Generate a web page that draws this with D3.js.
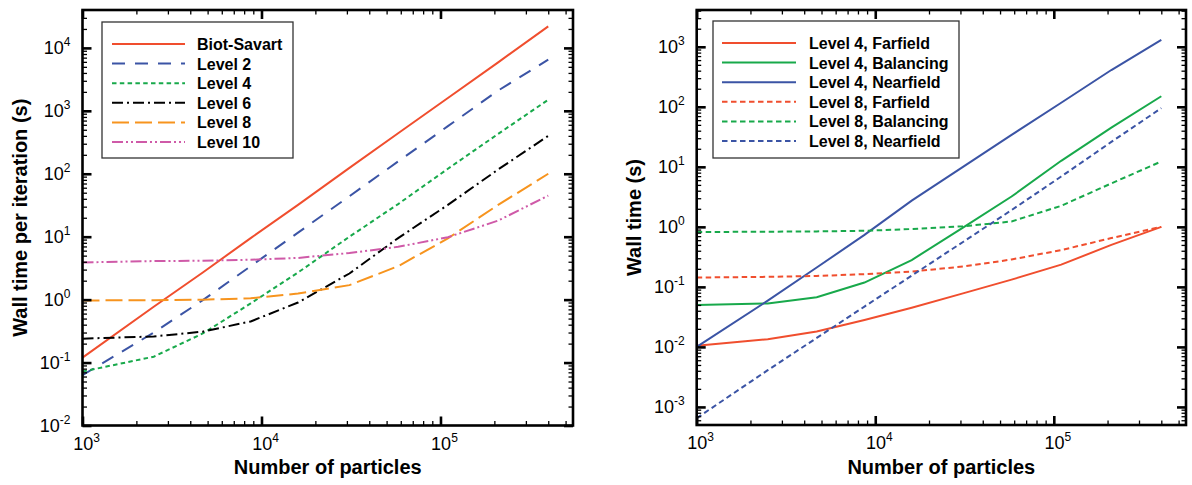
<!DOCTYPE html>
<html>
<head>
<meta charset="utf-8"/>
<title>Wall time vs number of particles</title>
<script src="https://d3js.org/d3.v7.min.js"></script>
<style>
    body { margin: 0; background: #fff; }
    svg text { font-family: "Liberation Sans", Arial, Helvetica, sans-serif; fill: #000; }
</style>
</head>
<body>
<div id="chart"></div>
<script>
    // number of particles (shared x values of every curve)
    const particles = [1000, 2500, 4700, 8700, 16000, 31000, 58000, 110000, 210000, 400000]

    // left panel: wall time per iteration (s)
    const biotSavart = [0.12, 0.77, 2.7, 9.5, 32, 124, 440, 1600, 5900, 22000]
    const level2 = [0.063, 0.30, 0.98, 3.4, 11.6, 44, 157, 570, 2100, 6500]
    const level4 = [0.072, 0.124, 0.29, 0.87, 2.7, 10, 33, 120, 430, 1500]
    const level6 = [0.24, 0.26, 0.31, 0.45, 0.9, 2.6, 9.5, 32, 117, 400]
    const level8 = [0.97, 0.98, 1.0, 1.05, 1.25, 1.7, 3.4, 9.4, 32, 100]
    const level10 = [3.9, 4.1, 4.15, 4.3, 4.6, 5.5, 6.9, 9.8, 18, 45]

    // right panel: wall time (s)
    const farfield4 = [0.0105, 0.0134, 0.018, 0.028, 0.045, 0.078, 0.132, 0.235, 0.50, 1.0]
    const balancing4 = [0.05, 0.053, 0.067, 0.118, 0.28, 0.97, 3.2, 12.6, 45, 150]
    const nearfield4 = [0.01, 0.059, 0.21, 0.735, 2.74, 10, 34, 117, 410, 1300]
    const farfield8 = [0.143, 0.147, 0.152, 0.163, 0.18, 0.218, 0.286, 0.41, 0.65, 1.0]
    const balancing8 = [0.82, 0.83, 0.84, 0.86, 0.92, 1.02, 1.23, 2.24, 5.3, 12.3]
    const nearfield8 = [0.00065, 0.0041, 0.0141, 0.047, 0.154, 0.56, 1.9, 6.9, 26, 95]

    const leftNames = ['Biot-Savart', 'Level 2', 'Level 4', 'Level 6', 'Level 8', 'Level 10']
    const rightNames = ['Level 4, Farfield', 'Level 4, Balancing', 'Level 4, Nearfield',
        'Level 8, Farfield', 'Level 8, Balancing', 'Level 8, Nearfield']

    // tick exponents (labels are 10^e)
    const xExponents = [3, 4, 5]
    const leftYExponents = [-2, -1, 0, 1, 2, 3, 4]
    const rightYExponents = [-3, -2, -1, 0, 1, 2, 3]

    const RED = '#f04e2e'
    const BLUE = '#3b54a5'
    const GREEN = '#18a94b'
    const ORANGE = '#f7941e'
    const PINK = '#cf5aa8'
    const BLACK = '#000000'

    const svg = d3.select('#chart')
        .append('svg')
        .attr('width', 1192)
        .attr('height', 485)

    const leftPanel = {
        x0: 82.5, x1: 573, y0: 10, y1: 425.5,
        xDomain: [1e3, 5.5e5], yDomain: [1e-2, 4e4],
        yExponents: leftYExponents,
        yTitle: 'Wall time per iteration (s)', yTitleX: 27,
        legend: { x: 102, y: 22, w: 191, h: 136, lineX1: 112, lineX2: 185, textX: 197 },
        series: [
            { name: leftNames[0], values: biotSavart, color: RED, dash: null },
            { name: leftNames[1], values: level2, color: BLUE, dash: '13,10' },
            { name: leftNames[2], values: level4, color: GREEN, dash: '4.5,3.3' },
            { name: leftNames[3], values: level6, color: BLACK, dash: '11,4,2,4' },
            { name: leftNames[4], values: level8, color: ORANGE, dash: '17,6' },
            { name: leftNames[5], values: level10, color: PINK, dash: '11,3,2,3,2,3' }
        ]
    }

    const rightPanel = {
        x0: 696.7, x1: 1186, y0: 10, y1: 425,
        xDomain: [1e3, 5.5e5], yDomain: [5e-4, 4.1e3],
        yExponents: rightYExponents,
        yTitle: 'Wall time (s)', yTitleX: 641,
        legend: { x: 713, y: 21, w: 246, h: 137, lineX1: 722, lineX2: 796, textX: 809 },
        series: [
            { name: rightNames[0], values: farfield4, color: RED, dash: null },
            { name: rightNames[1], values: balancing4, color: GREEN, dash: null },
            { name: rightNames[2], values: nearfield4, color: BLUE, dash: null },
            { name: rightNames[3], values: farfield8, color: RED, dash: '5.5,3.5' },
            { name: rightNames[4], values: balancing8, color: GREEN, dash: '5.5,3.5' },
            { name: rightNames[5], values: nearfield8, color: BLUE, dash: '5.5,3.5' }
        ]
    }

    drawPanel(leftPanel)
    drawPanel(rightPanel)

    function minorTicks(domain) {
        const out = []
        const lo = Math.floor(Math.log10(domain[0]))
        const hi = Math.ceil(Math.log10(domain[1]))
        for (let e = lo; e <= hi; e++) {
            for (let k = 2; k <= 9; k++) {
                const v = k * Math.pow(10, e)
                if (v > domain[0] && v < domain[1]) out.push(v)
            }
        }
        return out
    }

    function majorTicks(domain) {
        const out = []
        for (let e = Math.ceil(Math.log10(domain[0])); e <= Math.floor(Math.log10(domain[1])); e++) {
            out.push(Math.pow(10, e))
        }
        return out
    }

    function tickAxis(g, axisFn, scale, values, size, width) {
        g.call(axisFn(scale).tickValues(values).tickSize(-size).tickFormat(''))
        g.select('.domain').remove()
        g.selectAll('.tick line').attr('stroke', '#000').attr('stroke-width', width)
        g.selectAll('.tick text').remove()
    }

    function drawPanel(p) {
        const x = d3.scaleLog().domain(p.xDomain).range([p.x0, p.x1])
        const y = d3.scaleLog().domain(p.yDomain).range([p.y1, p.y0])
        const g = svg.append('g')

        // curves
        const line = d3.line()
            .x(d => x(d[0]))
            .y(d => y(d[1]))
        p.series.forEach(s => {
            g.append('path')
                .datum(d3.zip(particles, s.values))
                .attr('fill', 'none')
                .attr('stroke', s.color)
                .attr('stroke-width', 2)
                .attr('stroke-dasharray', s.dash)
                .attr('d', line)
        })

        // ticks on all four sides, pointing inwards
        const sides = [
            [d3.axisBottom, x, `translate(0,${p.y1})`, p.xDomain],
            [d3.axisTop, x, `translate(0,${p.y0})`, p.xDomain],
            [d3.axisLeft, y, `translate(${p.x0},0)`, p.yDomain],
            [d3.axisRight, y, `translate(${p.x1},0)`, p.yDomain]
        ]
        sides.forEach(([fn, scale, tr, dom]) => {
            tickAxis(g.append('g').attr('transform', tr), fn, scale, minorTicks(dom), 4.5, 1.3)
            tickAxis(g.append('g').attr('transform', tr), fn, scale, majorTicks(dom), 9, 2.6)
        })

        // frame
        g.append('rect')
            .attr('x', p.x0)
            .attr('y', p.y0)
            .attr('width', p.x1 - p.x0)
            .attr('height', p.y1 - p.y0)
            .attr('fill', 'none')
            .attr('stroke', '#000')
            .attr('stroke-width', 2.6)

        // tick labels
        xExponents.forEach(e => {
            const t = g.append('text')
                .attr('x', x(Math.pow(10, e)) + 4)
                .attr('y', p.y1 + 24)
                .attr('text-anchor', 'middle')
                .attr('font-size', 18)
            t.append('tspan').text('10')
            t.append('tspan').attr('dy', -8).attr('font-size', 12).text(e)
        })
        p.yExponents.forEach(e => {
            const t = g.append('text')
                .attr('x', p.x0 - 12)
                .attr('y', y(Math.pow(10, e)) + 6)
                .attr('text-anchor', 'end')
                .attr('font-size', 18)
            t.append('tspan').text('10')
            t.append('tspan').attr('dy', -8).attr('font-size', 12).text(e)
        })

        // axis titles
        g.append('text')
            .attr('x', (p.x0 + p.x1) / 2)
            .attr('y', 474)
            .attr('text-anchor', 'middle')
            .attr('font-size', 20)
            .attr('font-weight', 'bold')
            .text('Number of particles')
        g.append('text')
            .attr('transform', `translate(${p.yTitleX},${(p.y0 + p.y1) / 2}) rotate(-90)`)
            .attr('text-anchor', 'middle')
            .attr('font-size', 20)
            .attr('font-weight', 'bold')
            .text(p.yTitle)

        // legend
        const lg = p.legend
        g.append('rect')
            .attr('x', lg.x)
            .attr('y', lg.y)
            .attr('width', lg.w)
            .attr('height', lg.h)
            .attr('fill', '#fff')
            .attr('stroke', '#333')
            .attr('stroke-width', 1.3)
        p.series.forEach((s, i) => {
            const rowY = lg.y + 22 + i * 19.6
            g.append('line')
                .attr('x1', lg.lineX1)
                .attr('x2', lg.lineX2)
                .attr('y1', rowY)
                .attr('y2', rowY)
                .attr('stroke', s.color)
                .attr('stroke-width', 2)
                .attr('stroke-dasharray', s.dash)
            g.append('text')
                .attr('x', lg.textX)
                .attr('y', rowY + 6)
                .attr('font-size', 16)
                .attr('font-weight', 'bold')
                .text(s.name)
        })
    }
</script>
</body>
</html>
